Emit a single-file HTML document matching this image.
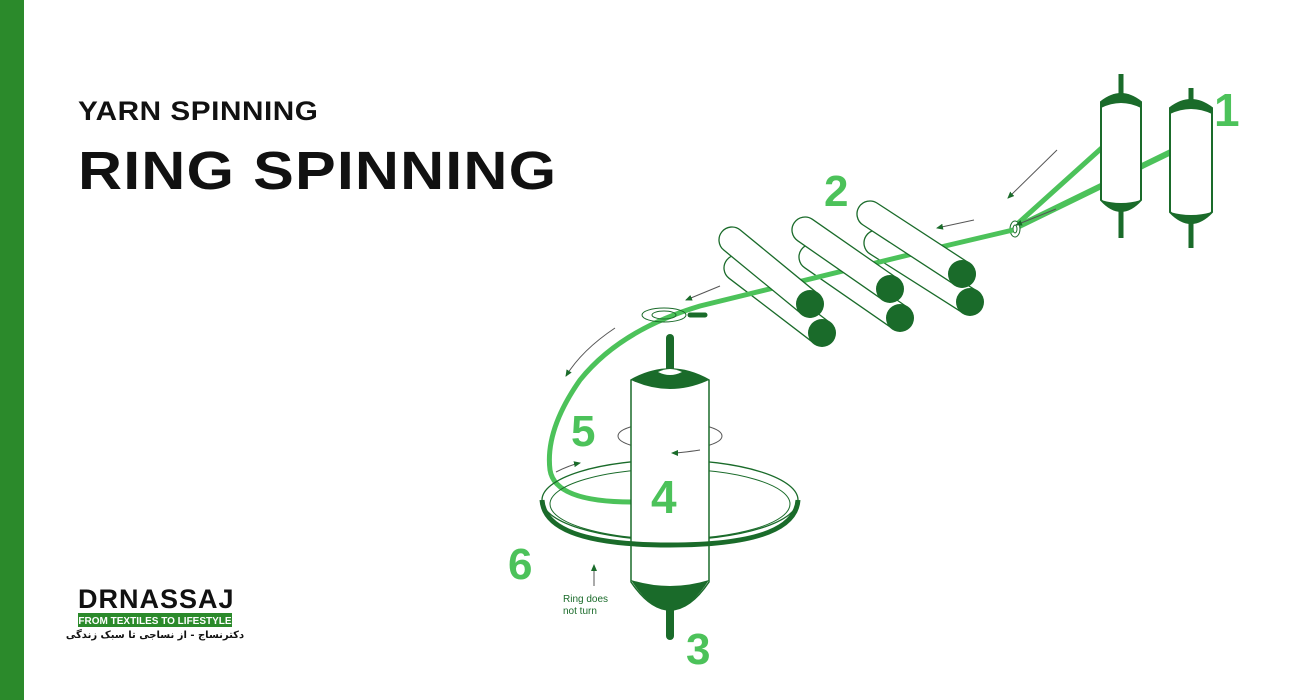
<!DOCTYPE html>
<html><head><meta charset="utf-8"><style>
body{margin:0;width:1300px;height:700px;background:#fff;overflow:hidden;position:relative;font-family:"Liberation Sans",sans-serif}
.bar{position:absolute;left:0;top:0;width:24px;height:700px;background:#2b8a2b}
.t1{position:absolute;left:78px;top:96px;font-size:27px;font-weight:bold;color:#111;letter-spacing:0.5px;transform-origin:0 0;transform:scaleX(1.1)}
.t2{position:absolute;left:78px;top:140px;font-size:54px;font-weight:bold;color:#111;letter-spacing:1px;transform-origin:0 0;transform:scaleX(1.13)}
</style></head><body>
<div class="bar"></div>
<div class="t1">YARN SPINNING</div>
<div class="t2">RING SPINNING</div>
<svg width="1300" height="700" style="position:absolute;left:0;top:0" font-family="Liberation Sans, sans-serif">
<defs><marker id="a" markerWidth="8" markerHeight="8" refX="6" refY="3" orient="auto"><path d="M0,0L7,3L0,6z" fill="#1a6b2a"/></marker></defs>
<!-- logo -->
<text x="78" y="608" font-size="27" font-weight="bold" fill="#111" letter-spacing="1">DRNASSAJ</text>
<rect x="78" y="613" width="154" height="14" fill="#2b8a2b"/>
<text x="155" y="624" font-size="10" font-weight="bold" fill="#fff" text-anchor="middle">FROM TEXTILES TO LIFESTYLE</text>
<text x="155" y="638" font-size="10" font-weight="bold" fill="#111" text-anchor="middle" font-family="DejaVu Sans, sans-serif">دکترنساج - از نساجی تا سبک زندگی</text>
<!-- yarns from bobbins -->
<g stroke="#4cc25a" stroke-linecap="round" fill="none">
<line x1="1105" y1="145" x2="1015" y2="226" stroke-width="5"/>
<line x1="1175" y1="150" x2="1015" y2="228" stroke-width="6"/>
</g>
<!-- bobbins 1 -->
<g stroke="#1a6b2a" stroke-width="2" fill="#fff">
<line x1="1121" y1="74" x2="1121" y2="238" stroke-width="5"/>
<line x1="1191" y1="88" x2="1191" y2="248" stroke-width="5"/>
<path d="M1101,102 Q1121,86 1141,102 L1141,200 Q1121,222 1101,200Z"/>
<path d="M1170,108 Q1191,92 1212,108 L1212,212 Q1191,234 1170,212Z"/>
</g>
<path d="M1101,102 Q1121,86 1141,102 L1141,108 Q1121,98 1101,108Z" fill="#1a6b2a"/>
<path d="M1101,200 Q1121,206 1141,200 Q1121,222 1101,200Z" fill="#1a6b2a"/>
<path d="M1170,108 Q1191,92 1212,108 L1212,114 Q1191,104 1170,114Z" fill="#1a6b2a"/>
<path d="M1170,212 Q1191,218 1212,212 Q1191,234 1170,212Z" fill="#1a6b2a"/>
<ellipse cx="1015" cy="229" rx="5" ry="8" fill="#fff" stroke="#1a6b2a"/>
<ellipse cx="1015" cy="229" rx="2" ry="4" fill="none" stroke="#1a6b2a"/>
<g stroke="#555" stroke-width="1" marker-end="url(#a)">
<line x1="1057" y1="150" x2="1008" y2="198"/>
<line x1="1056" y1="209" x2="1016" y2="225"/>
<line x1="974" y1="220" x2="937" y2="228"/>
<line x1="720" y1="286" x2="686" y2="300"/>
</g>
<!-- bottom rollers -->
<g stroke="#1a6b2a" stroke-width="1.3" fill="#fff">
<g transform="translate(737,268) rotate(37.4)"><rect x="-13" y="-13" width="133" height="26" rx="13"/></g>
<g transform="translate(812,257) rotate(34.7)"><rect x="-13" y="-13" width="133" height="26" rx="13"/></g>
<g transform="translate(877,243) rotate(32.4)"><rect x="-13" y="-13" width="136" height="26" rx="13"/></g>
</g>
<circle cx="822" cy="333" r="14" fill="#1a6b2a"/><circle cx="900" cy="318" r="14" fill="#1a6b2a"/><circle cx="970" cy="302" r="14" fill="#1a6b2a"/>
<!-- yarn through rollers -->
<path d="M1013,230 L945,246 L700,306 Q620,330 580,380 Q545,430 550,470 Q555,502 632,502" stroke="#4cc25a" stroke-width="5" fill="none"/>
<!-- top rollers -->
<g stroke="#1a6b2a" stroke-width="1.3" fill="#fff">
<g transform="translate(732,240) rotate(39.4)"><rect x="-13" y="-13" width="127" height="26" rx="13"/></g>
<g transform="translate(805,230) rotate(34.8)"><rect x="-13" y="-13" width="129" height="26" rx="13"/></g>
<g transform="translate(870,214) rotate(33.1)"><rect x="-13" y="-13" width="136" height="26" rx="13"/></g>
</g>
<circle cx="810" cy="304" r="14" fill="#1a6b2a"/><circle cx="890" cy="289" r="14" fill="#1a6b2a"/><circle cx="962" cy="274" r="14" fill="#1a6b2a"/>
<!-- guide eye -->
<ellipse cx="664" cy="315" rx="22" ry="7" fill="none" stroke="#1a6b2a" stroke-width="1"/>
<ellipse cx="664" cy="315" rx="12" ry="4" fill="none" stroke="#1a6b2a" stroke-width="1"/>
<line x1="690" y1="315" x2="705" y2="315" stroke="#1a6b2a" stroke-width="5" stroke-linecap="round"/>
<path d="M615,328 Q582,350 566,376" stroke="#555" fill="none" marker-end="url(#a)"/>
<!-- ring back -->
<ellipse cx="670" cy="500" rx="128" ry="40" fill="none" stroke="#1a6b2a" stroke-width="1.3"/>
<ellipse cx="670" cy="504" rx="120" ry="35" fill="none" stroke="#1a6b2a" stroke-width="1"/>
<ellipse cx="670" cy="436" rx="52" ry="14" fill="none" stroke="#555" stroke-width="1"/>
<!-- spindle -->
<line x1="670" y1="338" x2="670" y2="636" stroke="#1a6b2a" stroke-width="8" stroke-linecap="round"/>
<path d="M631,380 Q670,358 709,380 L709,582 Q690,610 670,610 Q650,610 631,582Z" fill="#fff" stroke="#1a6b2a" stroke-width="1.5"/>
<path d="M631,380 Q670,358 709,380 Q670,398 631,380Z" fill="#1a6b2a"/>
<path d="M658,372 Q670,366 682,372 Q670,378 658,372Z" fill="#fff"/>
<path d="M631,580 Q670,592 709,580 Q690,610 670,610 Q650,610 631,580Z" fill="#1a6b2a"/>
<!-- ring front thick -->
<path d="M542,500 Q545,545 670,545 Q795,545 798,500" fill="none" stroke="#1a6b2a" stroke-width="5"/>
<path d="M700,450 Q680,453 672,453" stroke="#555" fill="none" marker-end="url(#a)"/>
<path d="M556,472 Q570,465 580,463" stroke="#555" fill="none" marker-end="url(#a)"/>
<line x1="594" y1="586" x2="594" y2="565" stroke="#555" marker-end="url(#a)"/>
<text x="563" y="602" font-size="10" fill="#1a6b2a">Ring does</text>
<text x="563" y="614" font-size="10" fill="#1a6b2a">not turn</text>
<g fill="#4cc25a" font-weight="bold">
<text x="1214" y="126" font-size="46">1</text>
<text x="824" y="206" font-size="44">2</text>
<text x="686" y="664" font-size="44">3</text>
<text x="651" y="513" font-size="46">4</text>
<text x="571" y="446" font-size="44">5</text>
<text x="508" y="579" font-size="44">6</text>
</g>
</svg>
</body></html>
